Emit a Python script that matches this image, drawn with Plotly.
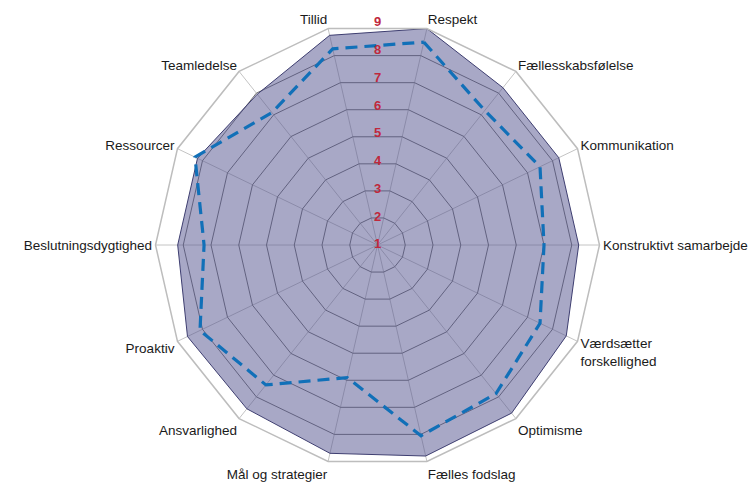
import plotly.graph_objects as go

categories = ["Respekt", "Fællesskabsfølelse", "Kommunikation", "Konstruktivt samarbejde",
              "Værdsætter<br>forskellighed", "Optimisme", "Fælles fodslag", "Mål og strategier",
              "Ansvarlighed", "Proaktiv", "Beslutningsdygtighed", "Ressourcer", "Teamledelse", "Tillid"]
series_fill = [9.0, 8.25, 8.25, 8.25, 8.55, 8.75, 8.8, 8.7, 8.55, 8.6, 8.2, 8.2, 7.95, 8.75]
series_dash = [8.5, 7.2, 7.5, 7.0, 7.5, 7.85, 8.05, 5.9, 7.45, 8.1, 7.25, 8.3, 7.1, 8.25]
radial_ticks = [1, 2, 3, 4, 5, 6, 7, 8, 9]
radial_labels = [str(v) for v in radial_ticks]

W, H = 755, 483
cx, cy, R = 377.5, 245.0, 222.0
dom_x = [(cx - R) / W, (cx + R) / W]
dom_y = [(H - (cy + R)) / H, (H - (cy - R)) / H]

n = len(categories)
rotation = 90 - 360 / (2 * n)

fig = go.Figure()
fig.add_trace(go.Scatterpolar(
    r=series_fill + series_fill[:1], theta=categories + categories[:1],
    mode="lines", fill="toself",
    fillcolor="rgba(82,82,142,0.5)",
    line=dict(color="#3E3E70", width=1),
    subplot="polar", showlegend=False, hoverinfo="skip"))
fig.add_trace(go.Scatterpolar(
    r=series_dash + series_dash[:1], theta=categories + categories[:1],
    mode="lines",
    line=dict(color="#1170B8", width=3.2, dash="12px,7px"),
    subplot="polar", showlegend=False, hoverinfo="skip"))
fig.add_trace(go.Scatterpolar(
    r=radial_ticks, theta=[0] * len(radial_ticks), text=radial_labels,
    mode="text", textposition="middle center",
    textfont=dict(family="Liberation Sans, Arial", size=13, color="#C0283C", weight="bold"),
    subplot="polar2", showlegend=False, hoverinfo="skip"))

fig.update_layout(
    width=W, height=H,
    margin=dict(l=0, r=0, t=0, b=0),
    paper_bgcolor="white",
    font=dict(family="Liberation Sans, Arial", size=13, color="#1a1a1a"),
    polar=dict(
        domain=dict(x=dom_x, y=dom_y),
        bgcolor="rgba(0,0,0,0)",
        gridshape="linear",
        angularaxis=dict(
            type="category", categoryarray=categories, direction="clockwise",
            rotation=rotation, showgrid=True, gridcolor="#C4C4C4", gridwidth=1,
            showline=True, linecolor="#BDBDBD", linewidth=1.5,
            ticks="", tickfont=dict(size=13.5, color="#1a1a1a")),
        radialaxis=dict(
            range=[1, 9], tickvals=radial_ticks, showticklabels=False, ticks="",
            showline=False, showgrid=True, gridcolor="#727272", gridwidth=1.4),
    ),
    polar2=dict(
        domain=dict(x=dom_x, y=dom_y),
        bgcolor="rgba(0,0,0,0)",
        angularaxis=dict(type="linear", direction="clockwise", rotation=90, visible=False),
        radialaxis=dict(range=[1, 9], visible=False),
    ),
)

fig.write_html("out.html", config={"displayModeBar": False},
               post_script="document.body.style.margin='0px';")
